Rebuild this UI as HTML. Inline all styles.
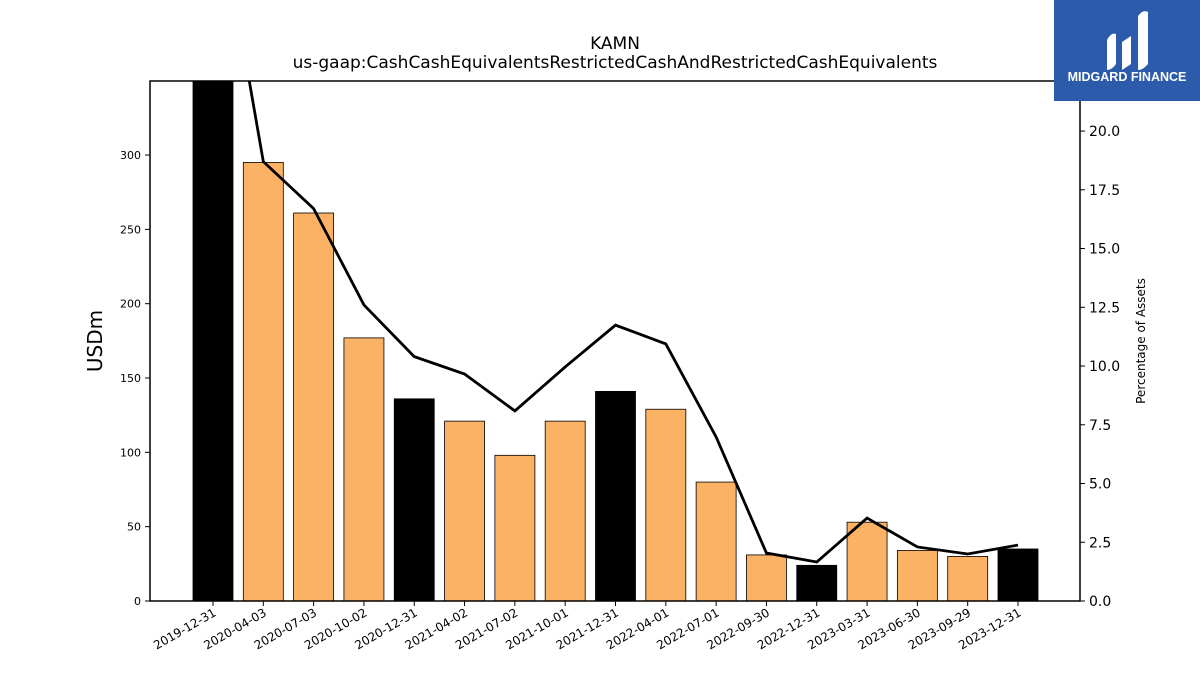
<!DOCTYPE html>
<html><head><meta charset="utf-8"><style>
body{margin:0;background:#fff;font-family:"Liberation Sans","DejaVu Sans",sans-serif}
svg text{font-family:"DejaVu Sans","Liberation Sans",sans-serif}
</style></head><body>
<svg id="chart" width="1200" height="675" xmlns="http://www.w3.org/2000/svg">
<rect width="1200" height="675" fill="#fff"/>
<text x="615" y="49" text-anchor="middle" font-size="17">KAMN</text>
<text x="615" y="68" text-anchor="middle" font-size="17">us-gaap:CashCashEquivalentsRestrictedCashAndRestrictedCashEquivalents</text>
<g id="bars"></g>
<g id="line"></g>
<rect x="150" y="81" width="930" height="520" fill="none" stroke="#000" stroke-width="1.5"/>
<g id="laxis"></g>
<g id="raxis"></g>
<g id="xaxis"></g>
<text transform="translate(102,341) rotate(-90)" text-anchor="middle" font-size="20">USDm</text>
<text transform="translate(1145,341) rotate(-90)" text-anchor="middle" font-size="12">Percentage of Assets</text>
<g>
<rect x="1054" y="0" width="146" height="101" fill="#2c5bab"/>
<path d="M1107 70 L1107 40 Q1111 32 1116 34 L1116 64 Q1112 70 1107 70Z M1122 70 L1122 42 L1131 36 L1131 64Z M1138 70 L1138 16 Q1143 9 1148 12 L1148 64 Q1143 70 1138 70Z" fill="#fff"/>
<text x="1127" y="81" text-anchor="middle" font-size="12.5" font-weight="bold" fill="#fff" style="font-family:'Liberation Sans',sans-serif">MIDGARD FINANCE</text>
</g>
</svg>
<script>
const categories=["2019-12-31","2020-04-03","2020-07-03","2020-10-02","2020-12-31","2021-04-02","2021-07-02","2021-10-01","2021-12-31","2022-04-01","2022-07-01","2022-09-30","2022-12-31","2023-03-31","2023-06-30","2023-09-29","2023-12-31"];
const cashValues=[380,295,261,177,136,121,98,121,141,129,80,31,24,53,34,30,35];
const pctValues=[31,18.7,16.7,12.6,10.4,9.66,8.09,9.96,11.74,10.94,6.98,2.04,1.66,3.53,2.3,2.0,2.38];
const leftTicks=[0,50,100,150,200,250,300];
const rightTicks=["0.0","2.5","5.0","7.5","10.0","12.5","15.0","17.5","20.0"];
const NS="http://www.w3.org/2000/svg";
const X0=150,X1=1080,Y0=601,Y1=81,LMAX=349.8,RMAX=22.13;
const xs=i=>213+i*(1018-213)/(categories.length-1);
const yl=v=>Y0-v/LMAX*(Y0-Y1);
const yr=v=>Y0-v/RMAX*(Y0-Y1);
function mk(t,a,p){const e=document.createElementNS(NS,t);for(const k in a)e.setAttribute(k,a[k]);p.appendChild(e);return e;}
const bars=document.getElementById('bars');
categories.forEach((c,i)=>{
 const top=Math.max(yl(cashValues[i]),Y1);
 const r=mk('rect',{x:xs(i)-20,y:top,width:40,height:Y0-top,fill:c.endsWith('12-31')?'#000':'#fbb264',stroke:'#000','stroke-width':0.8},bars);
 
 
});
const line=document.getElementById('line');
mk('clipPath',{id:'clip'},line).appendChild(document.createElementNS(NS,'rect'));
const cr=line.querySelector('rect');cr.setAttribute('x',X0);cr.setAttribute('y',Y1);cr.setAttribute('width',X1-X0);cr.setAttribute('height',Y0-Y1);
const pl=mk('polyline',{points:pctValues.map((v,i)=>xs(i)+','+yr(v)).join(' '),fill:'none',stroke:'#000','stroke-width':2.8,'clip-path':'url(#clip)'},line);


const la=document.getElementById('laxis');
leftTicks.forEach(v=>{const y=yl(v);mk('line',{x1:X0-5,x2:X0,y1:y,y2:y,stroke:'#000'},la);
 const t=mk('text',{x:X0-9,y:y+4,'text-anchor':'end','font-size':11},la);t.textContent=v;
 });
const ra=document.getElementById('raxis');
rightTicks.forEach(s=>{const y=yr(parseFloat(s));mk('line',{x1:X1,x2:X1+5,y1:y,y2:y,stroke:'#000'},ra);
 const t=mk('text',{x:X1+9,y:y+5,'font-size':14},ra);t.textContent=s;
 });
const xa=document.getElementById('xaxis');
categories.forEach((c,i)=>{const x=xs(i);mk('line',{x1:x,x2:x,y1:Y0,y2:Y0+5,stroke:'#000'},xa);
 const t=mk('text',{transform:`translate(${x+4},${Y0+14}) rotate(-30)`,'text-anchor':'end','font-size':12},xa);t.textContent=c;
 });
</script>
</body></html>
